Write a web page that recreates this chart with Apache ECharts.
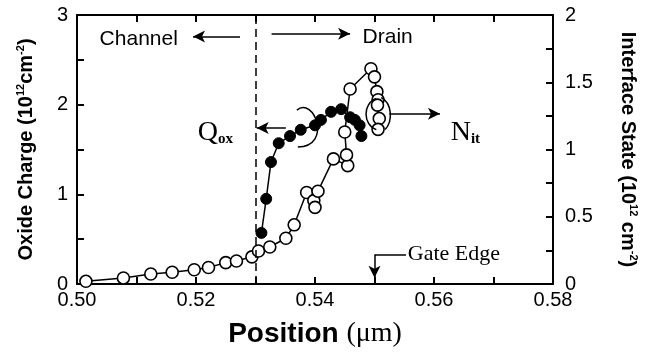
<!DOCTYPE html>
<html>
<head>
<meta charset="utf-8">
<script src="https://cdn.jsdelivr.net/npm/echarts@6/dist/echarts.min.js"></script>
<style>
  html, body { margin: 0; padding: 0; background: #fff; }
  #main { width: 647px; height: 353px; }
</style>
</head>
<body>
<div id="main"></div>
<script>
// oxide charge (filled dots, left axis) and interface state (open dots, right axis)
var oxPos = [0.5310, 0.5318, 0.5326, 0.5339, 0.5358, 0.5376, 0.5400, 0.5410, 0.5427, 0.5444, 0.5459, 0.5467, 0.5475, 0.5478];
var oxVal = [0.57, 0.95, 1.36, 1.57, 1.65, 1.72, 1.77, 1.83, 1.92, 1.95, 1.86, 1.83, 1.77, 1.65];

var nitPos = [0.5015, 0.5078, 0.5124, 0.5160, 0.5197, 0.5221, 0.5250, 0.5268, 0.5294, 0.5305, 0.5324, 0.5351, 0.5365,
              0.5386, 0.5398, 0.5400, 0.5405, 0.5431, 0.5455, 0.5453, 0.5450, 0.5459, 0.5494, 0.5500, 0.5504, 0.5506,
              0.5505, 0.5508, 0.5506];
var nitVal = [0.02, 0.045, 0.074, 0.087, 0.106, 0.123, 0.159, 0.171, 0.202, 0.245, 0.275, 0.34, 0.44,
              0.68, 0.62, 0.57, 0.69, 0.93, 0.88, 0.96, 1.13, 1.45, 1.60, 1.54, 1.43, 1.37,
              1.33, 1.23, 1.15];

var gateEdge = 0.55;
var channelEdge = 0.53;

function pairs(xs, ys) {
    return xs.map(function (x, i) { return [x, ys[i]]; });
}

var myChart = echarts.init(document.getElementById('main'));

// fresh objects for every axis
function tickStyle() { return { show: true, inside: true, length: 7, lineStyle: { color: '#000', width: 2 } }; }
function minorStyle() { return { show: true, splitNumber: 2, length: 7, lineStyle: { color: '#000', width: 2 } }; }
function lineAxis() { return { show: true, onZero: false, lineStyle: { color: '#000', width: 2 } }; }
function labelFont(extra) {
    return Object.assign({ color: '#000', fontFamily: 'Liberation Sans', fontSize: 20 }, extra);
}
function nameRich() {
    return {
        b: { fontFamily: 'Liberation Sans', fontWeight: 'bold', fontSize: 20, lineHeight: 22, color: '#000' },
        s: { fontFamily: 'Liberation Sans', fontWeight: 'bold', fontSize: 11, verticalAlign: 'top', lineHeight: 22, color: '#000' }
    };
}

function arrow(a, b) {
    return [{ coord: a }, { coord: b }];
}
function plain(a, b) {
    return [{ coord: a, symbol: 'none' }, { coord: b, symbol: 'none' }];
}

var option = {
    animation: false,
    grid: { left: 77, right: 85, top: 15, bottom: 61 },
    xAxis: [{
        type: 'value',
        min: 0.5, max: 0.58, interval: 0.02,
        axisLine: lineAxis(), axisTick: tickStyle(), minorTick: minorStyle(),
        splitLine: { show: false },
        axisLabel: labelFont({ margin: 6, formatter: function (v) { return v.toFixed(2); } }),
        name: '{b|Position }{u|(μm)}',
        nameLocation: 'middle', nameGap: 36,
        nameTextStyle: {
            rich: {
                b: { fontFamily: 'Liberation Sans', fontWeight: 'bold', fontSize: 28, color: '#000' },
                u: { fontFamily: 'Liberation Serif', fontSize: 28, color: '#000' }
            }
        }
    }, {
        type: 'value', position: 'top',
        min: 0.5, max: 0.58, interval: 0.02,
        axisLine: lineAxis(), axisTick: tickStyle(), minorTick: minorStyle(),
        splitLine: { show: false }, axisLabel: { show: false }
    }],
    yAxis: [{
        type: 'value',
        min: 0, max: 3, interval: 1,
        axisLine: lineAxis(), axisTick: tickStyle(), minorTick: minorStyle(),
        splitLine: { show: false },
        axisLabel: labelFont({ margin: 9 }),
        name: '{b|Oxide Charge (10}{s|12}{b|cm}{s|-2}{b|)}',
        nameLocation: 'middle', nameGap: 40,
        nameTextStyle: { rich: nameRich() }
    }, {
        type: 'value', position: 'right',
        min: 0, max: 2, interval: 0.5,
        axisLine: lineAxis(), axisTick: tickStyle(), minorTick: minorStyle(),
        splitLine: { show: false },
        axisLabel: labelFont({ margin: 12 }),
        name: '{b|Interface State (10}{s|12}{b| cm}{s|-2}{b|)}',
        nameLocation: 'middle', nameGap: 64, nameRotate: -90,
        nameTextStyle: { rich: nameRich() }
    }],
    series: [{
        name: 'Qox', type: 'line',
        xAxisIndex: 0, yAxisIndex: 0,
        data: pairs(oxPos, oxVal),
        symbol: 'circle', symbolSize: 11,
        lineStyle: { color: '#000', width: 1.5 },
        itemStyle: { color: '#000', borderColor: '#000', borderWidth: 1 },
        markLine: {
            silent: true,
            symbol: ['none', 'arrow'], symbolSize: [9, 12],
            label: { show: false },
            lineStyle: { color: '#000', width: 1.5, type: 'solid' },
            data: [
                [{ coord: [channelEdge, 0], symbol: 'none', lineStyle: { type: [8, 5], width: 1.5 } },
                 { coord: [channelEdge, 3], symbol: 'none' }],
                arrow([0.5274, 2.76], [0.5195, 2.76]),
                arrow([0.5327, 2.79], [0.5459, 2.79]),
                arrow([0.5351, 1.74], [0.5302, 1.74]),
                arrow([0.5525, 1.90], [0.5610, 1.90]),
                plain([0.5553, 0.325], [gateEdge, 0.325]),
                arrow([gateEdge, 0.325], [gateEdge, 0.07])
            ]
        }
    }, {
        name: 'Nit', type: 'line',
        xAxisIndex: 0, yAxisIndex: 1,
        data: pairs(nitPos, nitVal),
        symbol: 'circle', symbolSize: 12,
        lineStyle: { color: '#000', width: 1.5 },
        itemStyle: { color: '#fff', borderColor: '#000', borderWidth: 1.6 }
    }]
};

myChart.setOption(option);

// annotation texts and brackets, placed in data space of the left axis
function px(p) { return myChart.convertToPixel({ xAxisIndex: 0, yAxisIndex: 0 }, p); }

function txt(p, str, font, rich) {
    var q = px(p);
    return {
        type: 'text', x: q[0], y: q[1], silent: true,
        style: Object.assign({ text: str, fill: '#000', verticalAlign: 'middle', align: 'left', rich: rich }, font)
    };
}

function bracket(a, b, c, d) {
    var p1 = px(a), p2 = px(b), p3 = px(c), p4 = px(d);
    return {
        type: 'bezierCurve', silent: true, z: 10,
        shape: { x1: p1[0], y1: p1[1], cpx1: p2[0], cpy1: p2[1], cpx2: p3[0], cpy2: p3[1], x2: p4[0], y2: p4[1] },
        style: { stroke: '#000', lineWidth: 1.5, fill: null }
    };
}

var sans = { fontFamily: 'Liberation Sans', fontSize: 21 };
var serif = { fontFamily: 'Liberation Serif', fontSize: 22 };
var subRich = {
    m: { fontFamily: 'Liberation Serif', fontSize: 28, lineHeight: 30, verticalAlign: 'bottom' },
    s: { fontFamily: 'Liberation Serif', fontWeight: 'bold', fontSize: 15, lineHeight: 30, verticalAlign: 'bottom' }
};

myChart.setOption({
    graphic: [
        txt([0.5038, 2.73], 'Channel', sans),
        txt([0.5480, 2.75], 'Drain', sans),
        txt([0.5556, 0.33], 'Gate Edge', serif),
        txt([0.5203, 1.70], '{m|Q}{s|ox}', {}, subRich),
        txt([0.5628, 1.70], '{m|N}{s|it}', {}, subRich),
        bracket([0.53695, 1.939], [0.53976, 2.101], [0.54306, 1.538], [0.53712, 1.527]),
        bracket([0.55031, 2.069], [0.54800, 2.015], [0.54800, 1.776], [0.55031, 1.722]),
        bracket([0.55114, 2.080], [0.55295, 2.015], [0.55312, 1.820], [0.55180, 1.722])
    ]
});
</script>
</body>
</html>
